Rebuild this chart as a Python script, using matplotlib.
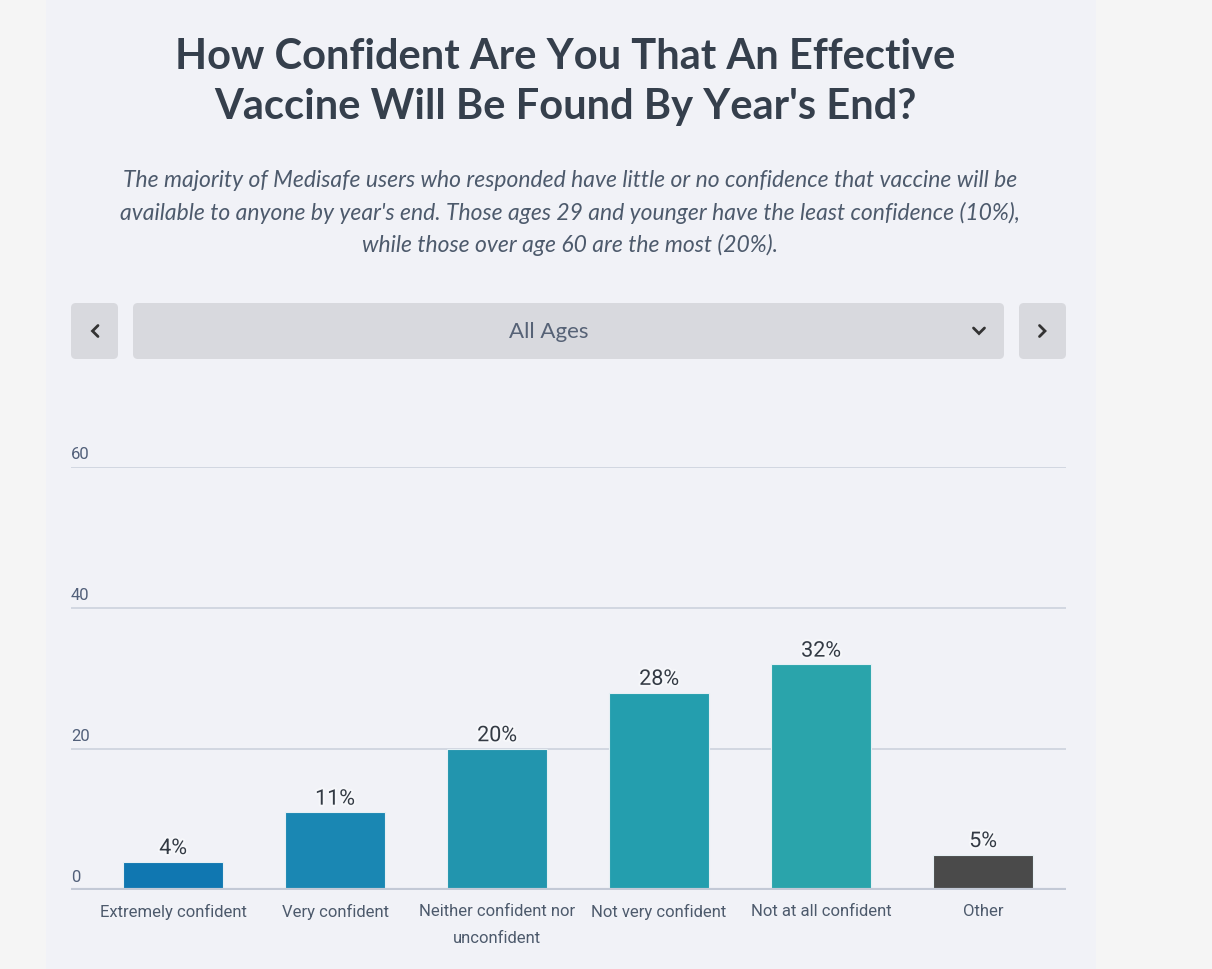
import matplotlib
matplotlib.use("Agg")
import matplotlib.pyplot as plt
from matplotlib.patches import FancyBboxPatch, Rectangle
import matplotlib.patheffects as pe
import matplotlib.transforms as mtransforms

categories = ["Extremely confident", "Very confident", "Neither confident nor\nunconfident",
              "Not very confident", "Not at all confident", "Other"]
values = [4, 11, 20, 28, 32, 5]
bar_colors = ["#1077b1", "#1a87b3", "#2295ae", "#249eae", "#2aa4ab", "#4a4a4a"]
yticks = [0, 20, 40, 60]

title = "How Confident Are You That An Effective\nVaccine Will Be Found By Year's End?"
subtitle = ("The majority of Medisafe users who responded have little or no confidence that vaccine will be\n"
            "available to anyone by year's end. Those ages 29 and younger have the least confidence (10%),\n"
            "while those over age 60 are the most (20%).")
dropdown_label = "All Ages"

W, H = 1212, 969
fig = plt.figure(figsize=(W / 100, H / 100), dpi=100, facecolor="#f5f5f5")

# overlay in pixel coordinates
ov = fig.add_axes([0, 0, 1, 1], zorder=0)
ov.set_xlim(0, W)
ov.set_ylim(H, 0)
ov.axis("off")
ov.add_patch(Rectangle((46, 0), 1050, H, color="#f1f2f7", lw=0))

btn = "#d8d9de"
ov.add_patch(FancyBboxPatch((71, 303), 47, 56, boxstyle="round,pad=0,rounding_size=5", fc=btn, ec="none"))
ov.add_patch(FancyBboxPatch((133, 303), 871, 56, boxstyle="round,pad=0,rounding_size=5", fc=btn, ec="none"))
ov.add_patch(FancyBboxPatch((1019, 303), 47, 56, boxstyle="round,pad=0,rounding_size=5", fc=btn, ec="none"))
ov.plot([98, 92.5, 98], [325.5, 331, 336.5], color="#333333", lw=2, solid_capstyle="round", solid_joinstyle="miter")
ov.plot([1039.5, 1045, 1039.5], [325.5, 331, 336.5], color="#333333", lw=2, solid_capstyle="round", solid_joinstyle="miter")
ov.plot([973.5, 979, 984.5], [328, 333.5, 328], color="#333333", lw=2, solid_capstyle="round", solid_joinstyle="miter")
ov.text(549, 332, dropdown_label, ha="center", va="center", fontsize=16, color="#566276", family="Lato")

ov.text(565, 82, title, ha="center", va="center", fontsize=30, fontweight="bold",
        color="#353f4c", family="Lato", linespacing=1.38)
ov.text(570, 213, subtitle, ha="center", va="center", fontsize=16.5, style="italic",
        color="#4d5a6c", family="Lato", linespacing=1.56)

# chart axes
left, right, top, bottom = 71, 1066, 467, 890
ax = fig.add_axes([left / W, (H - bottom) / H, (right - left) / W, (bottom - top) / H], zorder=1)
ax.set_facecolor("none")
ax.set_xlim(-0.63, 5.512)
ax.set_ylim(0, 60)
for s in ax.spines.values():
    s.set_visible(False)

x = list(range(len(categories)))
ax.bar(x, values, width=0.615, color=bar_colors, edgecolor="#e6f0f4", linewidth=0.8, zorder=3)

for t in yticks[1:]:
    ax.axhline(t, color="#c9cfdb", lw=1.1, zorder=1)
ax.axhline(0, color="#c3c9d6", lw=3, zorder=4)

narrow = ["Liberation Sans Narrow", "Roboto", "DejaVu Sans"]
offset = mtransforms.ScaledTranslation(0, 5 / 100, fig.dpi_scale_trans)
for t in yticks:
    ax.text(0, t, str(t), transform=ax.get_yaxis_transform() + offset, ha="left", va="bottom",
            fontsize=12, color="#52607a", family=narrow)

ax.set_yticks([])
ax.set_xticks(x)
ax.set_xticklabels(categories, fontsize=12, color="#4d5a6c", family=narrow, linespacing=2.0)
ax.tick_params(axis="x", length=0, pad=10)

for xi, v in zip(x, values):
    ax.annotate(f"{v}%", (xi, v), xytext=(0, 2), textcoords="offset points", ha="center", va="bottom",
                fontsize=15.5, color="#333a44", family="Roboto",
                path_effects=[pe.withStroke(linewidth=3, foreground="#f6f7fa")], zorder=5)

fig.savefig("out.png", dpi=100, facecolor=fig.get_facecolor())
